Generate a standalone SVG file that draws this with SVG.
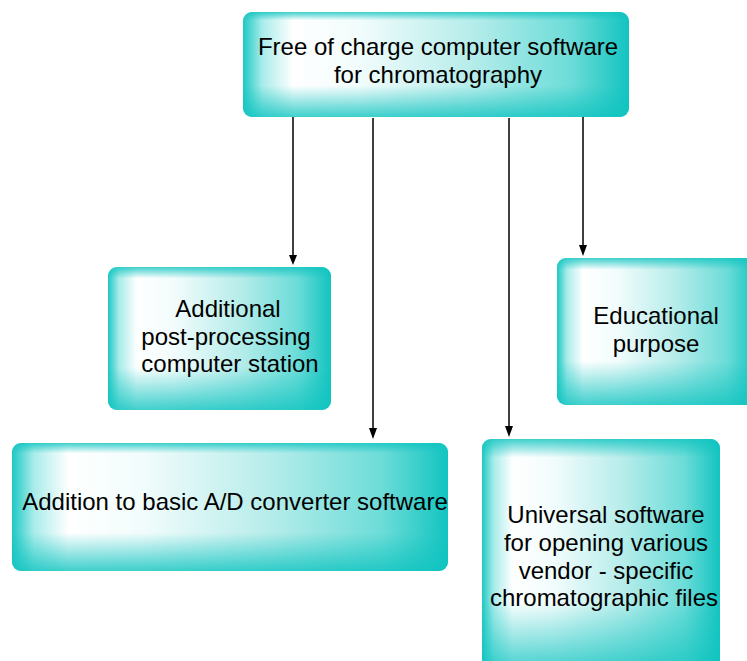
<svg xmlns="http://www.w3.org/2000/svg" width="747" height="661" viewBox="0 0 747 661">
<defs>
<linearGradient id="gh" x1="0" y1="0" x2="1" y2="0">
<stop offset="0" stop-color="#1ec8c4"/>
<stop offset="0.05" stop-color="#a8ecea"/>
<stop offset="0.13" stop-color="#ffffff"/>
<stop offset="0.3" stop-color="#f2fcfc"/>
<stop offset="0.6" stop-color="#b4ecea"/>
<stop offset="0.85" stop-color="#6cdcd8"/>
<stop offset="1" stop-color="#12c4c0"/>
</linearGradient>
<linearGradient id="gv" x1="0" y1="0" x2="0" y2="1">
<stop offset="0" stop-color="#10c4c0" stop-opacity="0.8"/>
<stop offset="0.08" stop-color="#10c4c0" stop-opacity="0"/>
<stop offset="0.7" stop-color="#10c4c0" stop-opacity="0"/>
<stop offset="1" stop-color="#10c4c0" stop-opacity="0.8"/>
</linearGradient>
</defs>
<style>
.b{fill:url(#gh)}
.o{fill:url(#gv)}
text{font-family:"Liberation Sans",Arial,sans-serif;font-size:24px;fill:#000;text-anchor:middle}
.c line{stroke:#000;stroke-width:1.5}
</style>
<rect width="747" height="661" fill="#fff"/>
<g class="c" id="connectors">
<line x1="293" y1="116" x2="293" y2="258"/>
<line x1="373" y1="118" x2="373" y2="430"/>
<line x1="509" y1="118" x2="509" y2="428"/>
<line x1="583" y1="116" x2="583" y2="247"/>
<path d="M289,255 L297,255 L293,265 Z"/>
<path d="M369,428 L377,428 L373,439 Z"/>
<path d="M505,426 L513,426 L509,437 Z"/>
<path d="M579,245 L587,245 L583,256 Z"/>
</g>
<g id="n-top">
<rect class="b" x="243" y="12" width="386" height="105" rx="9"/>
<rect class="o" x="243" y="12" width="386" height="105" rx="9"/>
<text x="438" y="55">Free of charge computer software</text>
<text x="438" y="83">for chromatography</text>
</g>
<g id="n-additional">
<rect class="b" x="108" y="267" width="223" height="143" rx="9"/>
<rect class="o" x="108" y="267" width="223" height="143" rx="9"/>
<text x="228" y="317">Additional</text>
<text x="226" y="345">post-processing</text>
<text x="230" y="372">computer station</text>
</g>
<g id="n-educational">
<rect class="b" x="557" y="258" width="200" height="147" rx="9"/>
<rect class="o" x="557" y="258" width="200" height="147" rx="9"/>
<text x="656" y="324">Educational</text>
<text x="656" y="352">purpose</text>
</g>
<g id="n-addition">
<rect class="b" x="12" y="443" width="436" height="128" rx="9"/>
<rect class="o" x="12" y="443" width="436" height="128" rx="9"/>
<text x="235" y="510">Addition to basic A/D converter software</text>
</g>
<g id="n-universal">
<rect class="b" x="482" y="439" width="238" height="232" rx="9"/>
<rect class="o" x="482" y="439" width="238" height="232" rx="9"/>
<text x="606" y="523">Universal software</text>
<text x="606" y="551">for opening various</text>
<text x="606" y="579">vendor - specific</text>
<text x="604" y="606">chromatographic files</text>
</g>
</svg>
